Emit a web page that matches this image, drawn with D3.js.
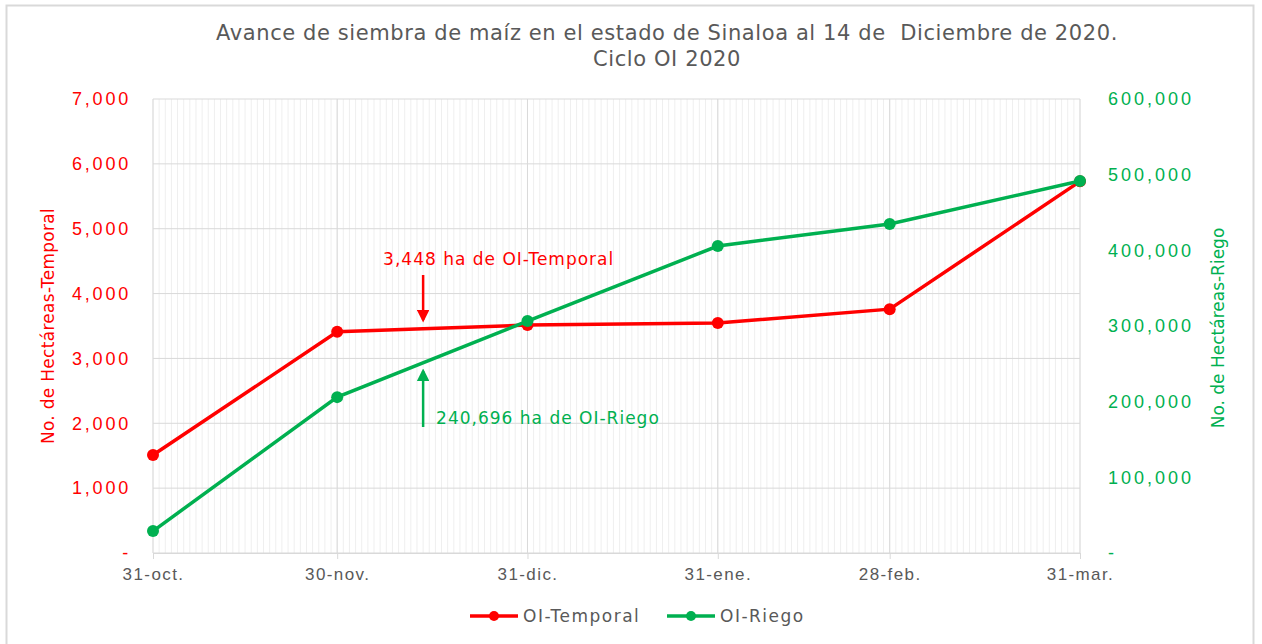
<!DOCTYPE html>
<html>
<head>
<meta charset="utf-8">
<script src="https://cdn.jsdelivr.net/npm/d3@7"></script>
<style>
  body { margin: 0; background: #fff; }
  svg { font-family: "DejaVu Sans", sans-serif; }
</style>
</head>
<body>
<svg id="chart" width="1262" height="644"></svg>
<script>
// data
const dates = ["2020-10-31", "2020-11-30", "2020-12-31", "2021-01-31", "2021-02-28", "2021-03-31"];
const dateLabels = ["31-oct.", "30-nov.", "31-dic.", "31-ene.", "28-feb.", "31-mar."];
const temporal = [1510, 3410, 3515, 3545, 3760, 5730];
const riego = [29000, 206000, 306500, 405700, 434800, 491600];
const leftTicks = [0, 1000, 2000, 3000, 4000, 5000, 6000, 7000];
const rightTicks = [0, 100000, 200000, 300000, 400000, 500000, 600000];
const noteDate = "2020-12-14";
const noteTemporal = "3,448 ha de OI-Temporal";
const noteRiego = "240,696 ha de OI-Riego";

const RED = "#ff0000", GREEN = "#00b050", GRAY = "#595959";
const parse = d3.timeParse("%Y-%m-%d");
const svg = d3.select("#chart");

const margin = { left: 153, right: 182, top: 99, bottom: 91 };
const width = 1262 - margin.left - margin.right;
const height = 644 - margin.top - margin.bottom;

// outer frame
svg.append("rect").attr("x", 6.5).attr("y", 5.5).attr("width", 1247).attr("height", 645)
  .attr("fill", "none").attr("stroke", "#d9d9d9").attr("stroke-width", 2);

const x = d3.scaleTime().domain([parse(dates[0]), parse(dates[dates.length - 1])]).range([0, width]);
const yL = d3.scaleLinear().domain([0, 7000]).range([height, 0]);
const yR = d3.scaleLinear().domain([0, 600000]).range([height, 0]);

const g = svg.append("g").attr("transform", `translate(${margin.left},${margin.top})`);

// minor daily grid
g.append("g").selectAll("line")
  .data(d3.timeDay.range(parse(dates[0]), d3.timeDay.offset(parse(dates[dates.length - 1]), 1)))
  .enter().append("line")
  .attr("x1", d => x(d)).attr("x2", d => x(d))
  .attr("y1", 0).attr("y2", height)
  .attr("stroke", "#efefef").attr("stroke-width", 1);

// horizontal grid
g.append("g").selectAll("line").data(leftTicks).enter().append("line")
  .attr("x1", 0).attr("x2", width)
  .attr("y1", d => yL(d)).attr("y2", d => yL(d))
  .attr("stroke", "#d9d9d9").attr("stroke-width", 1);

// major vertical grid
g.append("g").selectAll("line").data(dates).enter().append("line")
  .attr("x1", d => x(parse(d))).attr("x2", d => x(parse(d)))
  .attr("y1", 0).attr("y2", height)
  .attr("stroke", "#d9d9d9").attr("stroke-width", 1);

// x axis
const xAxis = g.append("g").attr("transform", `translate(0,${height})`)
  .call(d3.axisBottom(x).tickValues(dates.map(parse))
    .tickFormat((d, i) => dateLabels[i]).tickSize(6).tickPadding(9));
xAxis.select(".domain").attr("stroke", "#d9d9d9");
xAxis.selectAll(".tick line").attr("stroke", "#d9d9d9");
xAxis.selectAll("text").attr("fill", GRAY).attr("font-size", 17).attr("letter-spacing", 1.4);

// left axis
const fmt = d3.format(",");
const lAxis = g.append("g")
  .call(d3.axisLeft(yL).tickValues(leftTicks).tickFormat(d => d === 0 ? "-" : fmt(d)).tickSize(0).tickPadding(22));
lAxis.select(".domain").remove();
lAxis.selectAll("text").attr("fill", RED).attr("font-size", 18).attr("letter-spacing", 2.8);

// right axis
const rAxis = g.append("g").attr("transform", `translate(${width},0)`)
  .call(d3.axisRight(yR).tickValues(rightTicks).tickFormat(d => d === 0 ? "-" : fmt(d)).tickSize(0).tickPadding(28));
rAxis.select(".domain").remove();
rAxis.selectAll("text").attr("fill", GREEN).attr("font-size", 18).attr("letter-spacing", 3);

// axis titles
svg.append("text").attr("transform", `translate(54,${margin.top + height / 2}) rotate(-90)`)
  .attr("text-anchor", "middle").attr("fill", RED).attr("font-size", 17).attr("letter-spacing", 0.3)
  .text("No. de Hectáreas-Temporal");
svg.append("text").attr("transform", `translate(1224,${margin.top + height / 2 + 2}) rotate(-90)`)
  .attr("text-anchor", "middle").attr("fill", GREEN).attr("font-size", 17)
  .text("No. de Hectáreas-Riego");

// title
svg.append("text").attr("x", 667).attr("y", 40).attr("text-anchor", "middle")
  .attr("fill", GRAY).attr("font-size", 21).attr("letter-spacing", 0.6).attr("xml:space", "preserve")
  .text("Avance de siembra de maíz en el estado de Sinaloa al 14 de  Diciembre de 2020.");
svg.append("text").attr("x", 667).attr("y", 66).attr("text-anchor", "middle")
  .attr("fill", GRAY).attr("font-size", 21).attr("letter-spacing", 0.6).text("Ciclo OI 2020");

// series
const series = [
  { name: "OI-Temporal", values: temporal, y: yL, color: RED },
  { name: "OI-Riego", values: riego, y: yR, color: GREEN }
];
series.forEach(s => {
  const pts = dates.map((d, i) => [x(parse(d)), s.y(s.values[i])]);
  g.append("path").datum(pts).attr("d", d3.line())
    .attr("fill", "none").attr("stroke", s.color).attr("stroke-width", 3.5);
  g.append("g").selectAll("circle").data(pts).enter().append("circle")
    .attr("cx", d => d[0]).attr("cy", d => d[1]).attr("r", 6).attr("fill", s.color);
});

// annotations
const nx = x(parse(noteDate));
svg.append("defs").selectAll("marker").data([["ar", RED], ["ag", GREEN]]).enter()
  .append("marker").attr("id", d => d[0]).attr("viewBox", "0 0 10 10").attr("refX", 8).attr("refY", 5)
  .attr("markerWidth", 5).attr("markerHeight", 5).attr("orient", "auto")
  .append("path").attr("d", "M0,0L10,5L0,10z").attr("fill", d => d[1]);
g.append("line").attr("x1", nx).attr("x2", nx).attr("y1", 176).attr("y2", 221)
  .attr("stroke", RED).attr("stroke-width", 2.5).attr("marker-end", "url(#ar)");
g.append("text").attr("x", nx - 40).attr("y", 166).attr("fill", RED).attr("font-size", 17)
  .attr("letter-spacing", 1).text(noteTemporal);
g.append("line").attr("x1", nx).attr("x2", nx).attr("y1", 328).attr("y2", 272)
  .attr("stroke", GREEN).attr("stroke-width", 2.5).attr("marker-end", "url(#ag)");
g.append("text").attr("x", nx + 13).attr("y", 325).attr("fill", GREEN).attr("font-size", 17)
  .attr("letter-spacing", 1).text(noteRiego);

// legend
const leg = svg.append("g").attr("transform", "translate(0,616)");
[[470, series[0]], [667, series[1]]].forEach(([lx, s]) => {
  leg.append("line").attr("x1", lx).attr("x2", lx + 48).attr("y1", 0).attr("y2", 0)
    .attr("stroke", s.color).attr("stroke-width", 3.5);
  leg.append("circle").attr("cx", lx + 24).attr("cy", 0).attr("r", 5).attr("fill", s.color);
  leg.append("text").attr("x", lx + 53).attr("y", 6).attr("fill", GRAY).attr("font-size", 17)
    .attr("letter-spacing", 1.5).text(s.name);
});
</script>
</body>
</html>
